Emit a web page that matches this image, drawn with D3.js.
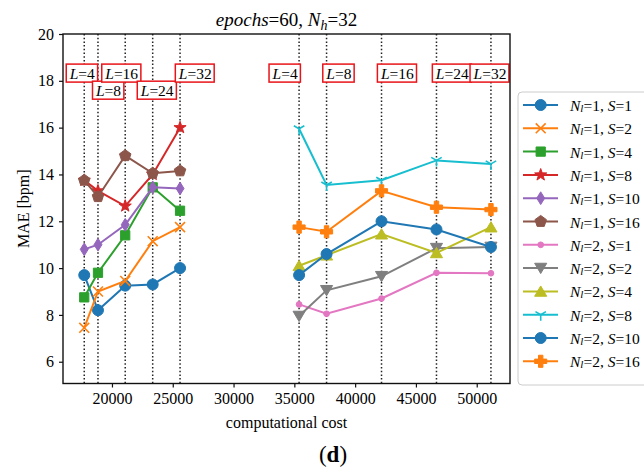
<!DOCTYPE html>
<html>
<head>
<meta charset="utf-8">
<script src="https://cdn.jsdelivr.net/npm/d3@7"></script>
<style>
body { margin: 0; background: #fff; }
svg text { font-family: "Liberation Serif", "DejaVu Serif", serif; fill: #000; }
</style>
</head>
<body>
<div id="chart-area"></div>
<script>
// computational cost for each L (two groups: N_l=1 and N_l=2)
var costG1 = [17720, 18850, 21090, 23350, 25600];
var costG2 = [35390, 37650, 42170, 46690, 51170];
var lValues = [4, 8, 16, 24, 32];

var nlValues = [1, 1, 1, 1, 1, 1, 2, 2, 2, 2, 2, 2];
var sValues = [1, 2, 4, 8, 10, 16, 1, 2, 4, 8, 10, 16];

// MAE values
var maeN1S1 = [9.7, 8.2, 9.25, 9.3, 10.0];
var maeN1S2 = [7.45, 9.0, 9.45, 11.15, 11.75];
var maeN1S4 = [8.75, 9.8, 11.4, 13.45, 12.45];
var maeN1S8 = [13.75, 13.3, 12.65, 14.0, 16.0];
var maeN1S10 = [10.8, 11.0, 11.85, 13.45, 13.4];
var maeN1S16 = [13.75, 13.05, 14.8, 14.05, 14.15];
var maeN2S1 = [8.45, 8.05, 8.7, 9.8, 9.78];
var maeN2S2 = [7.95, 9.05, 9.65, 10.85, 10.9];
var maeN2S4 = [10.1, 10.55, 11.45, 10.65, 11.75];
var maeN2S8 = [15.95, 13.55, 13.75, 14.6, 14.45];
var maeN2S10 = [9.7, 10.6, 12.0, 11.65, 10.9];
var maeN2S16 = [11.75, 11.55, 13.3, 12.6, 12.5];

var xTicks = [20000, 25000, 30000, 35000, 40000, 45000, 50000];
var yTicks = [6, 8, 10, 12, 14, 16, 18, 20];

// L annotation anchors (data coords)
var labelL = [4, 8, 16, 24, 32, 4, 8, 16, 24, 32];
var labelCost = [17560, 19720, 20800, 23720, 26850, 34240, 38660, 43470, 47990, 51090];
var labelMae = [18.33, 17.6, 18.33, 17.6, 18.33, 18.33, 18.33, 18.33, 18.33, 18.33];

var allMae = [maeN1S1, maeN1S2, maeN1S4, maeN1S8, maeN1S10, maeN1S16,
	maeN2S1, maeN2S2, maeN2S4, maeN2S8, maeN2S10, maeN2S16];
var colors = ["#1f77b4", "#ff7f0e", "#2ca02c", "#d62728", "#9467bd", "#8c564b",
	"#e377c2", "#7f7f7f", "#bcbd22", "#17becf", "#1f77b4", "#ff7f0e"];
var markers = ["o", "x", "s", "*", "d", "p", ".", "v", "^", "1", "o", "P"];

var series = allMae.map(function(vals, i) {
	var costs = nlValues[i] == 1 ? costG1 : costG2;
	return {
		nl: nlValues[i], s: sValues[i], color: colors[i], marker: markers[i],
		points: vals.map(function(v, j) { return {cost: costs[j], mae: v}; })
	};
});

var width = 644, height = 475;
var plot = {left: 63, right: 510, top: 34, bottom: 383.5};

var svg = d3.select("#chart-area").append("svg")
	.attr("width", width).attr("height", height);

var x = d3.scaleLinear().domain([15973, 52737]).range([plot.left, plot.right]);
var y = d3.scaleLinear().domain([5.07, 20]).range([plot.bottom, plot.top]);

// marker shapes, roughly like matplotlib
function markerPath(m, sz) {
	var r = sz / 2, pts, i, a;
	if (m == "o") return "M" + r + ",0A" + r + "," + r + " 0 1 1 " + (-r) + ",0A" + r + "," + r + " 0 1 1 " + r + ",0Z";
	if (m == ".") { r = sz * 0.26; return "M" + r + ",0A" + r + "," + r + " 0 1 1 " + (-r) + ",0A" + r + "," + r + " 0 1 1 " + r + ",0Z"; }
	if (m == "s") { var h = sz * 0.42; return "M" + (-h) + "," + (-h) + "H" + h + "V" + h + "H" + (-h) + "Z"; }
	if (m == "x") { var q = sz * 0.45; return "M" + (-q) + "," + (-q) + "L" + q + "," + q + "M" + (-q) + "," + q + "L" + q + "," + (-q); }
	if (m == "d") { var hh = sz * 0.58, ww = sz * 0.36; return "M0," + (-hh) + "L" + ww + ",0L0," + hh + "L" + (-ww) + ",0Z"; }
	if (m == "v") { var t = sz * 0.55; return "M" + (-t) + "," + (-t * 0.8) + "L" + t + "," + (-t * 0.8) + "L0," + (t * 0.9) + "Z"; }
	if (m == "^") { var u = sz * 0.55; return "M" + (-u) + "," + (u * 0.8) + "L" + u + "," + (u * 0.8) + "L0," + (-u * 0.9) + "Z"; }
	if (m == "1") { var k = sz * 0.55; return "M0,0L0," + k + "M0,0L" + (-k * 0.866) + "," + (-k * 0.5) + "M0,0L" + (k * 0.866) + "," + (-k * 0.5); }
	if (m == "P") { var o = sz * 0.55, n = sz * 0.2;
		return "M" + (-n) + "," + (-o) + "H" + n + "V" + (-n) + "H" + o + "V" + n + "H" + n + "V" + o + "H" + (-n) + "V" + n + "H" + (-o) + "V" + (-n) + "H" + (-n) + "Z"; }
	if (m == "*" || m == "p") {
		pts = [];
		var outer = m == "*" ? sz * 0.58 : sz * 0.55, inner = outer * 0.4;
		for (i = 0; i < (m == "*" ? 10 : 5); i++) {
			a = -Math.PI / 2 + i * Math.PI / (m == "*" ? 5 : 2.5);
			var rr = (m == "*" && i % 2 == 1) ? inner : outer;
			pts.push([rr * Math.cos(a), rr * Math.sin(a)]);
		}
		return "M" + pts.map(function(p) { return p[0].toFixed(2) + "," + p[1].toFixed(2); }).join("L") + "Z";
	}
	return "";
}
function isStroke(m) { return m == "x" || m == "1"; }

// vertical dotted lines for each L
var allCosts = costG1.concat(costG2);
svg.append("g").selectAll("line")
	.data(allCosts).enter().append("line")
	.attr("x1", function(d) { return x(d); }).attr("x2", function(d) { return x(d); })
	.attr("y1", plot.top).attr("y2", plot.bottom)
	.attr("stroke", "#222").attr("stroke-width", 1.5)
	.attr("stroke-dasharray", "1.5,2.2");

// series lines
var line = d3.line().x(function(d) { return x(d.cost); }).y(function(d) { return y(d.mae); });
var gSeries = svg.append("g");
series.forEach(function(s) {
	var g = gSeries.append("g");
	g.append("path").attr("d", line(s.points))
		.attr("fill", "none").attr("stroke", s.color).attr("stroke-width", 2);
	g.selectAll("path.mk").data(s.points).enter().append("path")
		.attr("class", "mk")
		.attr("transform", function(d) { return "translate(" + x(d.cost) + "," + y(d.mae) + ")"; })
		.attr("d", markerPath(s.marker, 11))
		.attr("fill", isStroke(s.marker) ? "none" : s.color)
		.attr("stroke", s.color).attr("stroke-width", isStroke(s.marker) ? 1.6 : 1);
});

// L annotations with red boxes
var gLab = svg.append("g");
labelL.forEach(function(l, i) {
	var g = gLab.append("g");
	var t = g.append("text")
		.attr("x", x(labelCost[i])).attr("y", y(labelMae[i]))
		.attr("text-anchor", "middle").attr("dominant-baseline", "central")
		.style("font-size", "15.5px");
	t.append("tspan").style("font-style", "italic").text("L");
	t.append("tspan").text("=" + l);
	var bb = t.node().getBBox();
	g.insert("rect", "text")
		.attr("x", bb.x - 2.5).attr("y", y(labelMae[i]) - 9)
		.attr("width", bb.width + 5).attr("height", 18)
		.attr("fill", "#fff").attr("stroke", "#e8141a").attr("stroke-width", 1.5);
});

// axes
var xAxis = d3.axisBottom(x).tickValues(xTicks).tickSize(4).tickPadding(5).tickFormat(d3.format("d"));
var yAxis = d3.axisLeft(y).tickValues(yTicks).tickSize(4).tickPadding(5);
var gx = svg.append("g").attr("transform", "translate(0," + plot.bottom + ")").call(xAxis);
var gy = svg.append("g").attr("transform", "translate(" + plot.left + ",0)").call(yAxis);
[gx, gy].forEach(function(g) {
	g.select(".domain").remove();
	g.selectAll(".tick line").attr("stroke", "#111").attr("stroke-width", 1.2);
	g.selectAll(".tick text").style("font-size", "16px").attr("fill", "#000")
		.style("font-family", "'Liberation Serif', serif");
});
svg.append("rect")
	.attr("x", plot.left).attr("y", plot.top)
	.attr("width", plot.right - plot.left).attr("height", plot.bottom - plot.top)
	.attr("fill", "none").attr("stroke", "#111").attr("stroke-width", 1.4);

// title
var title = svg.append("text").attr("x", (plot.left + plot.right) / 2).attr("y", 26)
	.attr("text-anchor", "middle").style("font-size", "19px");
title.append("tspan").style("font-style", "italic").text("epochs");
title.append("tspan").text("=60, ");
title.append("tspan").style("font-style", "italic").text("N");
title.append("tspan").style("font-style", "italic").style("font-size", "14px").attr("dy", 4).text("h");
title.append("tspan").attr("dy", -4).text("=32");

// axis labels
svg.append("text").attr("x", (plot.left + plot.right) / 2).attr("y", 428)
	.attr("text-anchor", "middle").style("font-size", "16px").text("computational cost");
svg.append("text").attr("transform", "translate(29," + ((plot.top + plot.bottom) / 2) + ") rotate(-90)")
	.attr("text-anchor", "middle").style("font-size", "16px").text("MAE [bpm]");

var cap = svg.append("text").attr("x", 333).attr("y", 462)
	.attr("text-anchor", "middle").style("font-size", "23px");
cap.append("tspan").text("(");
cap.append("tspan").style("font-weight", "bold").text("d");
cap.append("tspan").text(")");

// legend
var leg = svg.append("g");
leg.append("rect").attr("x", 518).attr("y", 92).attr("width", 140).attr("height", 293)
	.attr("rx", 4).attr("fill", "#fff").attr("fill-opacity", 0.8)
	.attr("stroke", "#cccccc").attr("stroke-width", 1);
series.forEach(function(s, i) {
	var ly = 105 + i * 23.3;
	var g = leg.append("g");
	g.append("line").attr("x1", 523).attr("x2", 558).attr("y1", ly).attr("y2", ly)
		.attr("stroke", s.color).attr("stroke-width", 2);
	g.append("path").attr("transform", "translate(540.7," + ly + ")")
		.attr("d", markerPath(s.marker, 11))
		.attr("fill", isStroke(s.marker) ? "none" : s.color)
		.attr("stroke", s.color).attr("stroke-width", isStroke(s.marker) ? 1.6 : 1);
	var t = g.append("text").attr("x", 570).attr("y", ly).attr("dominant-baseline", "central")
		.style("font-size", "15.5px");
	t.append("tspan").style("font-style", "italic").text("N");
	t.append("tspan").style("font-style", "italic").style("font-size", "11px").attr("dy", 3).text("l");
	t.append("tspan").attr("dy", -3).text("=" + s.nl + ", ");
	t.append("tspan").style("font-style", "italic").text("S");
	t.append("tspan").text("=" + s.s);
});
</script>
</body>
</html>
